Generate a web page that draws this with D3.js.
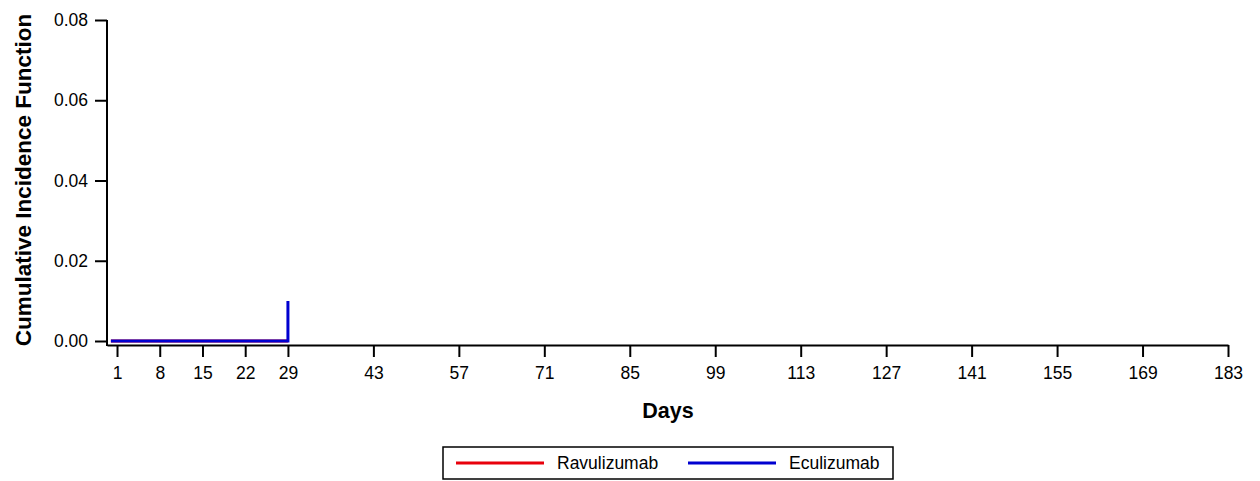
<!DOCTYPE html>
<html>
<head>
<meta charset="utf-8">
<script src="https://cdn.jsdelivr.net/npm/d3@7"></script>
<style>
  body { margin: 0; background: #fff; }
  text { font-family: "Liberation Sans", Arial, sans-serif; fill: #000; }
</style>
</head>
<body>
<script>
var width = 1260
var height = 481

// data
var xTicks = [1, 8, 15, 22, 29, 43, 57, 71, 85, 99, 113, 127, 141, 155, 169, 183]
var yTicks = [0, 0.02, 0.04, 0.06, 0.08]
var ravuDays = [0, 29]
var ravuCif = [0, 0]
var ecuDays = [0, 29, 29]
var ecuCif = [0, 0, 0.01]
var seriesNames = ["Ravulizumab", "Eculizumab"]
var seriesColors = ["#e8000b", "#0000d0"]

var svg = d3.select("body")
    .append("svg")
    .attr("width", width)
    .attr("height", height);

var x_scale = d3.scaleLinear()
    .domain([-0.64, 183])
    .range([107, 1228]);

var y_scale = d3.scaleLinear()
    .domain([0, 0.08])
    .range([341, 20]);

// lines
var line = d3.line()
    .x((d) => x_scale(d[0]))
    .y((d) => y_scale(d[1]))

var ravu = ravuDays.map((d, i) => [d, ravuCif[i]])
var ecu = ecuDays.map((d, i) => [d, ecuCif[i]])

svg.append("path")
    .datum(ravu)
    .attr("d", line)
    .attr("fill", "none")
    .attr("stroke", seriesColors[0])
    .attr("stroke-width", 3)

svg.append("path")
    .datum(ecu)
    .attr("d", line)
    .attr("fill", "none")
    .attr("stroke", seriesColors[1])
    .attr("stroke-width", 3)

// x axis
var x_axis = d3.axisBottom(x_scale)
    .tickValues(xTicks)
    .tickSize(12)
    .tickSizeOuter(0)
    .tickPadding(10)

var gx = svg.append("g")
    .attr("transform", "translate(0,345)")
    .call(x_axis)
gx.select(".domain").attr("stroke-width", 2)
gx.selectAll(".tick line").attr("stroke-width", 2)
gx.selectAll(".tick text").style("font-size", "17.5px")

// y axis
var y_axis = d3.axisLeft(y_scale)
    .tickValues(yTicks)
    .tickFormat(d3.format(".2f"))
    .tickSize(12)
    .tickSizeOuter(0)
    .tickPadding(7)

var gy = svg.append("g")
    .attr("transform", "translate(107,0)")
    .call(y_axis)
gy.select(".domain").attr("d", "M0,20V346").attr("stroke-width", 2)
gy.selectAll(".tick line").attr("stroke-width", 2)
gy.selectAll(".tick text").style("font-size", "17.5px")

// axis titles
svg.append("text")
    .attr("x", 668)
    .attr("y", 418)
    .attr("text-anchor", "middle")
    .style("font-size", "21.5px")
    .style("font-weight", "bold")
    .text("Days")

svg.append("text")
    .attr("transform", "translate(31,180) rotate(-90)")
    .attr("text-anchor", "middle")
    .style("font-size", "22.5px")
    .style("font-weight", "bold")
    .text("Cumulative Incidence Function")

// legend
var legend = svg.append("g")
legend.append("rect")
    .attr("x", 443)
    .attr("y", 447)
    .attr("width", 450)
    .attr("height", 32)
    .attr("fill", "#fff")
    .attr("stroke", "#000")
    .attr("stroke-width", 1.5)

var legX = [456, 688]
seriesNames.forEach((name, i) => {
    legend.append("line")
        .attr("x1", legX[i])
        .attr("x2", legX[i] + 88)
        .attr("y1", 463)
        .attr("y2", 463)
        .attr("stroke", seriesColors[i])
        .attr("stroke-width", 3)
    legend.append("text")
        .attr("x", legX[i] + 101)
        .attr("y", 469)
        .style("font-size", "17.5px")
        .text(name)
})
</script>
</body>
</html>
